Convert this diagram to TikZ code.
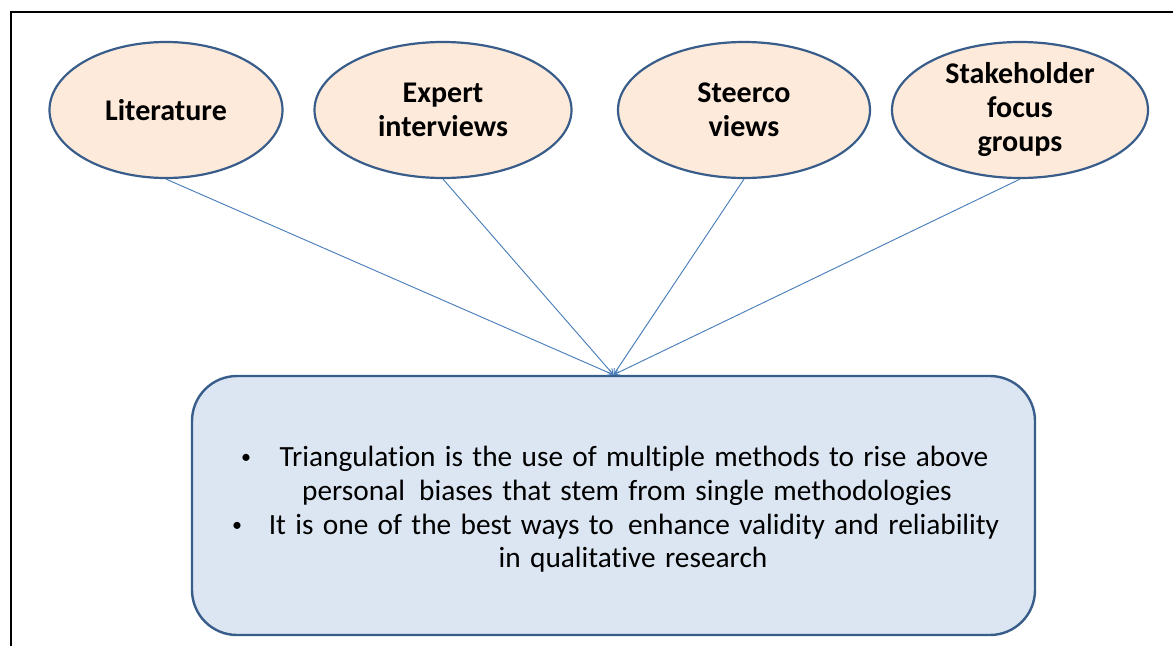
\documentclass[tikz,border=0pt]{standalone}
\usepackage{fontspec}
\setmainfont{Carlito}[Ligatures=NoCommon]
\usetikzlibrary{shapes.geometric,arrows.meta}
\definecolor{ellfill}{HTML}{FDEADA}
\definecolor{edgeblue}{HTML}{385D8A}
\definecolor{boxfill}{HTML}{DCE6F2}
\definecolor{linkblue}{HTML}{4A7EBB}
\newcommand\mybodyfont{\fontsize{22pt}{25pt}\selectfont\spaceskip=7pt\relax}
\tikzset{
  src/.style={ellipse, draw=edgeblue, line width=1.65pt, fill=ellfill, minimum height=102pt, inner sep=0pt, align=center, font=\fontsize{22.5pt}{25.5pt}\selectfont\bfseries},
  link/.style={draw=linkblue, line width=0.7pt, -{Straight Barb[length=3.75pt,width=4.5pt]}},
  bodytext/.style={inner sep=0pt, anchor=base, font=\mybodyfont},
  bullet/.style={inner sep=0pt, anchor=base, font=\fontsize{15pt}{18pt}\selectfont},
}
\begin{document}
\begin{tikzpicture}[x=0.75pt,y=-0.75pt]
\useasboundingbox (0,0) rectangle (1173,646);
\draw[line width=1.8pt] (11,646) -- (11,12) -- (1173,12);
\node[src, minimum width=174.75pt] (lit) at (166,110) {Literature};
\node[src, minimum width=192.75pt] (exp) at (443,110) {Expert\\interviews};
\node[src, minimum width=189pt] (ste) at (744,110) {Steerco\\views};
\node[src, minimum width=192pt] (sta) at (1020,110) {Stakeholder\\focus\\groups};
\node[draw=edgeblue, line width=1.8pt, fill=boxfill, rounded corners=33.75pt, minimum width=632.25pt, minimum height=194.25pt, inner sep=0pt] (box) at (613.5,505.5) {};
\draw[link] (lit.south) -- (box.north);
\draw[link] (exp.south) -- (box.north);
\draw[link] (ste.south) -- (box.north);
\draw[link] (sta.south) -- (box.north);
\node[bodytext] (l1) at (634,466) {Triangulation is the use of multiple methods to rise above};
\node[bodytext] (l2) at (627,500) {personal\, biases that stem from single methodologies};
\node[bodytext] (l3) at (634,534) {It is one of the best ways to\, enhance validity and reliability};
\node[bodytext] (l4) at (633,567) {in qualitative research};
\node[bullet] (b1) at (246,463) {•};
\node[bullet] (b2) at (237,531) {•};
\end{tikzpicture}
\end{document}
